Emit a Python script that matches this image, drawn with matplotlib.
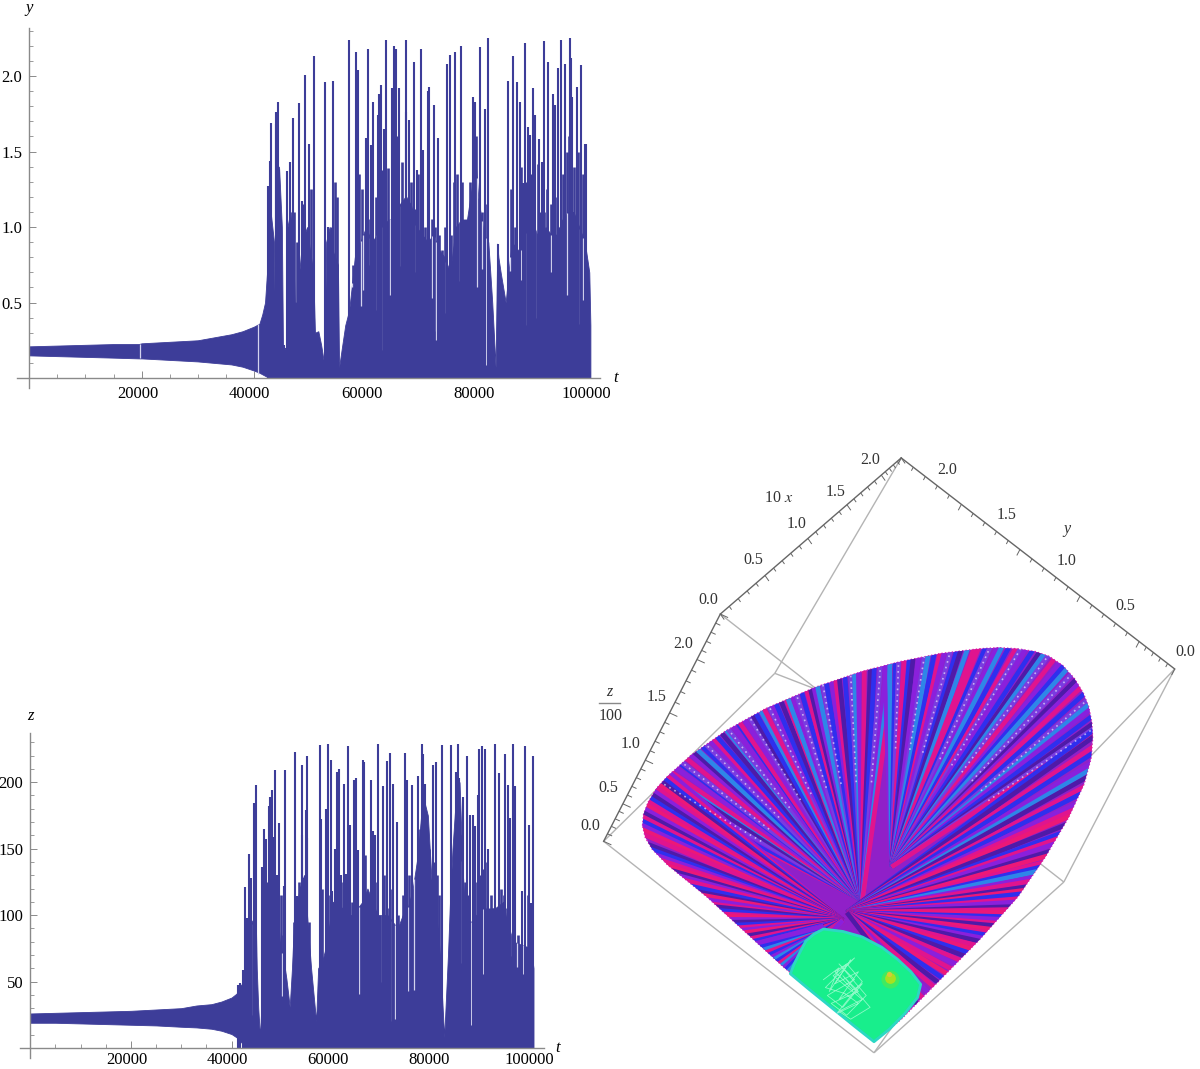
import numpy as np
import matplotlib
matplotlib.use('Agg')
import matplotlib.pyplot as plt
import matplotlib.transforms as mtransforms
from matplotlib.collections import LineCollection
from matplotlib.patches import Polygon

W, H = 1200, 1069
BLUE = '#3D3D99'
GREY = '#8A8A8A'
BOX = '#B4B4B4'

plt.rcParams['font.family'] = ['Liberation Serif', 'DejaVu Serif']

# --- y(t), body of the plot: t in thousands
y_body_t = [0, 5, 10, 15, 19.5, 20, 25, 30, 33, 36, 38, 40, 41, 41.5, 42, 42.5, 43, 43.6, 43.8, 44, 44.5, 45, 45.2,
            45.6, 45.8, 46, 46.5, 47, 47.3, 47.9, 48.1, 48.6, 49, 49.5, 50, 50.6, 50.9, 51.5, 52, 52.6, 52.9, 53.5,
            54, 54.5, 55, 55.2, 55.7, 56.3, 57, 57.5, 58, 59, 60, 61, 62, 63, 64, 65, 66, 67, 68, 69, 70, 71, 72,
            73, 74, 75, 76, 77, 78, 79, 79.6, 80, 81, 81.8, 82.5, 83.1, 83.4, 83.6, 84, 84.9, 85.4, 86, 87, 88,
            89, 90, 91, 92, 93, 94, 95, 96, 97, 98, 99, 99.8, 100]
y_body_hi = [.21, .215, .22, .225, .225, .23, .24, .25, .27, .29, .31, .34, .36, .42, .5, .78, 1.1, .9, .15, .9, 1.4,
             1.0, .2, .2, .15, 1.0, 1.1, .9, .5, .5, .7, .9, .95, 1.0, .85, .7, .3, .31, .22, .08, .9, 1.0, .85, .8,
             .75, .07, .2, .35, .45, .62, .8, .9, 1.0, .9, .95, 1.0, 1.05, 1.05, 1.15, 1.2, 1.15, 1.0, .95, .9, .95, .85,
             .8, .7, 1.0, 1.05, 1.05, 1.3, 1.4, 1.2, .95, .9, .5, .07, .89, .8, .7, .5, .7, .9, .85, .85, 1.0, 1.0,
             .9, 1.0, .95, .95, 1.05, 1.1, 1.1, 1.0, .9, .7, .35]
y_body_lo = [.15, .145, .14, .135, .13, .13, .12, .11, .1, .09, .075, .05, .035, .025, .015, .005, 0, 0, 0, 0, 0, 0, 0,
             0, 0, 0, 0, 0, 0, 0, 0, 0, 0, 0, 0, 0, 0, 0, 0, 0, 0, 0, 0, 0, 0, 0, 0, 0, 0, 0, 0, 0, 0, 0, 0, 0, 0,
             0, 0, 0, 0, 0, 0, 0, 0, 0, 0, 0, 0, 0, 0, 0, 0, 0, 0, 0, 0, 0, 0, 0, 0, 0, 0, 0, 0, 0, 0, 0, 0, 0, 0,
             0, 0, 0, 0, 0, 0, 0, 0]

y_spike_t = [42500, 42800, 43000, 43900, 44000, 44400, 45300, 45950, 46450, 47000, 48050, 48550, 49070, 49800, 50700,
             52700, 53150, 54150, 54750, 57050, 58200, 58650, 59950, 60400, 60850, 61200, 62150, 62300, 62650, 63150,
             63600, 64550, 65000, 65400, 65900, 67100, 67150, 67750, 68500, 69050, 69850, 70150, 71100, 71300, 72050,
             72850, 74500, 74900, 75950, 76900, 79100, 79450, 80250, 81150, 81700, 83450, 85350, 86200, 86950, 87400,
             87900, 88350, 88900, 89250, 89700, 90200, 90900, 91450, 91750, 92500, 93350, 93700, 94300, 94800, 95450,
             96350, 96600, 96750, 97550, 98300, 99100, 99250, 99450]
y_spike_v = [1.27, 1.44, 1.69, 1.76, 1.68, 1.83, .22, 1.37, 1.43, 1.72, 1.82, 1.17, 2.01, 1.55, 2.13,
             1.96, 1.0, 1.97, .78, 2.24, 2.16, 2.04, 1.59, 2.18, 1.54, 1.83, 1.74, 1.88, 1.94, 1.65,
             2.24, 1.92, 2.20, 2.18, 1.92, 1.76, 2.24, 1.71, 2.09, 1.38, 2.18, 1.51, 1.90, 1.93, 1.81,
             1.59, 2.08, 2.14, 2.16, 2.20, 1.86, 1.83, 2.19, 1.78, 2.25, .89, 1.97, 2.13, 1.96, 1.83,
             1.29, 2.22, 1.66, 1.61, 1.92, 1.74, 1.58, 1.43, 2.23, 2.09, 1.88, 1.81, 2.05, 2.24, 2.08,
             2.25, 2.12, 1.86, 1.93, 2.07, 1.55, 1.55, .78]
y_minor_t = [46500, 47200, 47700, 48800, 49300, 50200, 53800, 54400, 54900, 57700, 58300, 58800, 59300, 60100, 60700,
             61000, 61700, 62800, 63300, 64000, 64800, 65500, 66000, 66500, 67400, 68100, 68700, 69300, 70500, 71000,
             71700, 72300, 73000, 73500, 74000, 75200, 75600, 76200, 77200, 77700, 78500, 79600, 80700, 81500, 85800,
             86500, 87700, 88100, 88600, 89500, 90600, 91100, 91700, 92200, 92900, 93500, 94000, 94600, 95200, 95900,
             96100, 97000, 97800, 98700, 99000]
y_minor_v = [1.1, 1.1, .9, 1.15, .9, 1.25, 1.0, 1.3, 1.2, .75, 1.3, 1.35, 1.25, 1.3, 1.05,
             1.4, 1.2, 1.38, 1.12, 1.39, 1.5, 1.6, 1.1, 1.43, 1.2, 1.3, 1.12, 1.35, 1.0, 1.2,
             1.05, 1.0, .95, .85, 1.0, .95, 1.3, 1.35, 1.3, .9, 1.3, 1.6, 1.1, 1.15, 1.25,
             1.0, 1.4, 1.1, 1.3, 1.35, 1.42, 1.1, 1.1, 1.25, 1.15, 1.35, 1.2, 1.0, 1.35, 1.5,
             1.6, 1.4, 1.5, 1.35, 1.3]
# pale slits cut into the body
y_gap_t = [19700, 40800, 57450, 59050, 59500, 60700, 62000, 63050, 64300, 65900, 68900, 69750, 71750, 72150, 72500,
           74300, 76750, 79750, 80650, 81400, 85700, 87700, 88750, 90200, 93000, 95800, 98150, 98700]
y_gap_v = [.13, .03, .63, .48, .58, .75, .45, .185, .55, .74, .7, .6, .53, .31, .25,
           .43, .64, .6, .72, .085, .71, .65, .35, .4, .7, .55, .36, .52]

# --- z(t)
z_body_t = [0, 5, 10, 15, 20, 25, 30, 33, 36, 38, 40, 41, 41.5, 42.5, 43, 43.3, 44, 44.8, 45, 45.3, 45.65, 46, 46.1,
            47, 48, 49, 49.6, 50.4, 50.9, 51.55, 52, 52.4, 53.5, 54.4, 55.1, 55.8, 56.8, 57.2, 58, 59, 60, 61, 62,
            63, 64, 65, 66, 67, 68, 69, 70, 71, 72, 73, 74, 75, 76, 77, 78, 79, 79.9, 81, 81.4, 82.25, 83, 83.4,
            83.9, 84.6, 85.3, 85.9, 86.6, 88.6, 90, 92.3, 94, 94.7, 96, 99.5, 100]
z_body_hi = [26, 26.5, 27, 27.5, 28, 29, 30, 32, 33, 35, 38, 41, 46, 50, 60, 90, 95, 100, 60, 30, 8, 40, 115,
             115, 130, 110, 80, 65, 52, 31, 60, 95, 120, 130, 95, 60, 20, 60, 65, 80, 110, 110, 105,
             100, 100, 105, 110, 120, 110, 100, 100, 100, 95, 90, 100, 105, 120, 145, 190, 175, 115, 90, 70, 8, 70, 110,
             150, 190, 200, 135, 90, 100, 105, 105, 110, 95, 80, 75, 60]
z_body_lo = [19, 19, 18.5, 18, 17.5, 17, 16, 15.5, 14.5, 13, 10.5, 8, 6, 2, 0, 0, 0, 0, 0, 0, 0, 0, 0,
             0, 0, 0, 0, 0, 0, 0, 0, 0, 0, 0, 0, 0, 0, 0, 0, 0, 0, 0, 0,
             0, 0, 0, 0, 0, 0, 0, 0, 0, 0, 0, 0, 0, 0, 0, 0, 0, 0, 0, 0, 0, 0, 0,
             0, 0, 0, 0, 0, 0, 0, 0, 0, 0, 0, 0, 0]
z_spike_t = [41250, 41750, 42200, 42650, 43050, 43450, 43950, 44450, 44850, 46100, 46500, 46800, 47500, 47650, 48000,
             48200, 48650, 48950, 49400, 50400, 50650, 52700, 53000, 53900, 54000, 54400, 54700, 54900, 55050, 57550,
             57750, 58800, 59250, 59700, 60050, 60500, 60950, 61400, 61650, 62300, 62750, 63050, 63600, 64250, 64700,
             65050, 66150, 66300, 67700, 68000, 68200, 68500, 69000, 70000, 70950, 71500, 72100, 72850, 74450, 74900,
             75800, 77000, 77750, 78100, 78350, 79950, 80700, 81800, 83550, 84500, 84900, 85250, 85900, 86700, 87400,
             87900, 88400, 88950, 89100, 89750, 90400, 91000, 92300, 93050, 94300, 94900, 95250, 95900, 96300, 97750,
             98400, 99100, 99500, 99900]
z_spike_v = [47.6, 49, 59, 121.5, 98, 146, 128, 184, 198, 136, 165, 157, 182, 189, 194,
             159, 209, 130, 169, 122, 209, 222.5, 114, 160, 213, 128, 179, 158, 220, 228,
             172, 180, 228.5, 217, 118, 150, 208, 210, 130, 199, 131, 227, 168, 202, 203,
             149, 217, 215, 202, 127, 163, 160, 228.5, 197, 216, 222, 199, 170, 222, 202,
             198, 205, 228.5, 221, 199, 213, 215, 228, 228, 208, 228.5, 203, 189, 220, 175,
             175, 167, 190, 225, 227, 225, 150, 229, 207, 221, 198, 173, 229, 197, 118,
             227.5, 168, 109, 220]
z_minor_t = [46300, 47100, 48400, 49000, 49800, 50200, 52400, 52900, 53400, 54500, 55400, 57900, 58300, 59600, 60300,
             60900, 61800, 62300, 63400, 64000, 64500, 65500, 66600, 67400, 68500, 69300, 70300, 71200, 71800, 73000,
             74000, 75300, 76600, 77000, 77400, 78800, 79300, 80200, 80900, 81300, 85000, 85600, 86300, 87000, 88000,
             88800, 89400, 90000, 90700, 91500, 92000, 93500, 94100, 94700, 96100, 96900, 97300, 98900, 99400]
z_minor_v = [100, 125, 140, 120, 115, 85, 95, 110, 125, 130, 95, 120, 65, 115, 105,
             100, 125, 105, 120, 110, 105, 100, 145, 115, 125, 95, 130, 105, 120, 100,
             115, 130, 125, 145, 165, 160, 150, 140, 130, 115, 165, 160, 125, 115, 110,
             125, 130, 135, 140, 115, 105, 120, 115, 105, 100, 85, 70, 115, 58]
z_gap_t = [41200, 43800, 48400, 50050, 58800, 62700, 65250, 69900, 71900, 72500, 75050, 76300, 85850, 87600, 89900,
           95400, 96700, 98000]
z_gap_v = [8, 25, 21, 39, 54, 46, 41, 50, 20, 22, 43, 44, 64, 17.5, 56, 69, 61, 56]

t_ticks = [20000, 40000, 60000, 80000, 100000]
t_labels = ['20000', '40000', '60000', '80000', '100000']
y_ticks = [0.5, 1.0, 1.5, 2.0]
y_labels = ['0.5', '1.0', '1.5', '2.0']
z_ticks = [50, 100, 150, 200]
z_labels = ['50', '100', '150', '200']

# --- 3D panel, scene units
corner_T = (800, 20)
corner_A = (335, 415)
corner_B = (1503, 554)
corner_C = (35, 990)
corner_D = (730, 1525)
corner_E = (475, 565)
corner_G = (1218, 1093)
corner_F = (1216, 847)

petal_x = [135, 138, 150, 172, 200, 260, 350, 450, 580, 700, 800, 900, 1000, 1050, 1100, 1145, 1180, 1215, 1245, 1268,
           1282, 1290, 1292, 1288, 1270, 1230, 1170, 1100, 1000, 900, 800, 730, 600, 500, 400, 300, 200, 160, 142, 135]
petal_y = [950, 920, 890, 855, 825, 772, 710, 655, 600, 560, 535, 515, 503, 500, 503, 510, 522, 545, 578, 615,
           650, 690, 730, 780, 845, 930, 1030, 1130, 1240, 1340, 1440, 1497, 1390, 1310, 1220, 1130, 1050, 1010, 980, 950]

green_x = [575, 600, 650, 700, 750, 790, 825, 850, 842, 810, 770, 730, 680, 620, 560, 515, 525, 540, 555]
green_y = [1225, 1212, 1218, 1232, 1258, 1288, 1320, 1352, 1385, 1425, 1465, 1497, 1458, 1410, 1362, 1325, 1300, 1270, 1242]
scrib_x = [600, 640, 615, 670, 630, 690, 640, 700, 650, 610, 680, 640, 710, 660, 620, 690, 650, 720, 670, 640, 700, 625,
           680, 605, 655, 690, 635, 700, 660, 630, 675]
scrib_y = [1340, 1310, 1370, 1290, 1350, 1320, 1390, 1350, 1410, 1380, 1340, 1300, 1380, 1430, 1400, 1370, 1330, 1410,
           1440, 1420, 1390, 1330, 1285, 1360, 1375, 1400, 1425, 1345, 1300, 1320, 1365]

fan1_hub = (700, 1140)
fan1_ang = [-153, -152, -150.5, -150, -148.5, -147, -146.5, -145, -143.5, -143, -141.5, -140, -139, -138, -136.5, -135.5,
            -134, -133, -132, -130.5, -129, -128.5, -127, -125.5, -125, -123.5, -122, -121, -120, -118.5, -117.5, -116,
            -115, -114, -112.5, -111, -110.5, -109, -108, -106.5, -105, -104, -103, -102, -100.5, -99.5, -98, -97, -96,
            -94.5, -93, -92, -91, -89.5, -88, -87, -85.5, -84, -83, -82]
fan1_col = 'mbpwdcmpbwmpdcbwpmbdcwpbmpwdbcmwpbdmcpwbmdpcwbpmdbwcpmdbwpcm'
fan2_hub = (775, 1055)
fan2_ang = [-92, -90.5, -89, -88, -86.5, -85, -84, -82.5, -81, -80, -78.5, -77, -76, -74.5, -73, -72, -70.5, -69,
            -68, -66.5, -65.5, -64, -63, -61.5, -60, -59, -58, -56.5, -55, -54, -53, -51.5, -50, -49, -48, -46.5, -45,
            -44, -43, -41.5, -40, -39, -38, -36.5, -35, -34, -33]
fan2_col = 'pcbwmbdpwcbmpwbdcmmbwpcbmwpbdcwmpbcwdpmbwcpbdwm'
fan3_hub = (660, 1170)
fan3_ang = [-36, -35, -33.5, -32.5, -31, -30, -29, -27.5, -26.5, -25, -24, -23, -21.5, -20, -19, -18, -16.5, -15.5, -14,
            -13, -12, -10.5, -9.5, -8, -7, -6, -4.5, -3.5, -2, -1, 0, 1.5, 2.5, 4, 5, 6.5, 8, 9, 10.5, 12, 14, 16, 18, 20,
            22.5, 25, 28, 31, 34, 37, 40, 44, 48, 52]
fan3_col = 'bdmbpcdmbpmrdbmpdrmbcpmdrbmpdmrbpmdrmbpdmrbdmpmrbdmpmd'
fan4_hub = (650, 1190)
fan4_ang = [-140, -141, -142, -143, -144, -145, -146, -147, -148, -149, -150, -151, -152, -153, -154, -155, -156, -157,
            -159, -160, -161, -162, -163, -164, -165, -166, -167.5, -169, -170, -171.5, -173, -174, -175.5, -177, -178,
            -179.5, 179, 177.5, 176, 174.5, 173, 171, 169, 167, 165, 163, 160.5, 158, 155.5, 153, 150, 147, 144, 141,
            138, 135]
fan4_col = 'pmbdrmpdbmrpdmbprmdbpmrdpmbdrpmdbmrpdbmprdmbpdmrpbdmprmp'
fan5_hub = (600, 1205)
fan5_ang = [118, 121, 124, 127, 130, 133, 136, 139, 142, 145, 148, 151, 154, 157, 160, 163, 166]
fan5_col = 'ccbmcbpcmbcpbmcbp'

ray_colors = {'m': '#E0148E', 'b': '#2F2FEE', 'p': '#8A20DC', 'c': '#2E86E8', 'd': '#4F1AA8', 'r': '#EC1878',
              'w': '#7A3CE0'}

x_tick_major = [0.0, .247, .484, .70, .89, 1.0]
y_tick_major = [0.0, .22, .434, .654, .87, 1.0]
z_tick_major = [0.0, .165, .357, .565, .80, 1.0]


def time_panel(rect, xlim, ylim, body_t, lo, hi, gap_t, gap_v, spike_t, spike_v, minor_t, minor_v,
               yticks, ylabels, yminor, xpad):
    left, top, right, bottom = rect
    ax = fig.add_axes([left / W, 1 - bottom / H, (right - left) / W, (bottom - top) / H])
    ax.set_xlim(*xlim)
    ax.set_ylim(*ylim)
    ax.patch.set_alpha(0)
    body_x = np.array(body_t) * 1000
    ax.fill_between(body_x, lo, hi, color=BLUE, lw=0.6, zorder=2)
    ax.vlines(minor_t, 0, minor_v, color=BLUE, lw=1.9, zorder=2.05)
    ax.vlines(gap_t, gap_v, np.interp(gap_t, body_x, hi), color='#D4D4EE', lw=0.9, zorder=2.1)
    ax.vlines(spike_t, 0, spike_v, color=BLUE, lw=1.5, zorder=2.2)
    for side in ['top', 'right']:
        ax.spines[side].set_visible(False)
    for side in ['left', 'bottom']:
        ax.spines[side].set_position(('data', 0))
        ax.spines[side].set_color(GREY)
        ax.spines[side].set_linewidth(1.0)
        ax.spines[side].set_zorder(3)
    ax.set_xticks(t_ticks, t_labels)
    ax.set_xticks(np.arange(5000, 100001, 5000), minor=True)
    ax.set_yticks(yticks, ylabels)
    ax.set_yticks(yminor, minor=True)
    ax.tick_params(which='major', direction='in', length=5, width=0.7, color=GREY, labelsize=12, pad=5)
    ax.tick_params(axis='x', which='major', pad=xpad)
    ax.tick_params(which='minor', direction='in', length=3, width=0.6, color=GREY)
    shift = mtransforms.ScaledTranslation(-4 / 100, 0, fig.dpi_scale_trans)
    for lab in ax.get_xticklabels():
        lab.set_transform(lab.get_transform() + shift)
    return ax


def tick_marks(ax, p0, p1, fractions, direction):
    # minor ticks sit every 0.1 between the read major positions
    major = np.array(fractions)
    sub = np.interp(np.linspace(0, 5, 26), np.arange(6), major)
    segs = []
    for i, f in enumerate(sub):
        px = p0[0] + (p1[0] - p0[0]) * f
        py = p0[1] + (p1[1] - p0[1]) * f
        k = 1.0 if i % 5 == 0 else 0.6
        segs.append([(px, py), (px + direction[0] * k, py + direction[1] * k)])
    ax.add_collection(LineCollection(segs, colors='#666666', linewidths=0.7, zorder=4))
    ax.plot([p0[0], p1[0]], [p0[1], p1[1]], color='#666666', lw=1.0, zorder=4)


def draw_fan(ax, hub, angles, codes, clip):
    for ang, code in zip(angles, codes):
        a = np.radians(ang)
        x2, y2 = hub[0] + 1900 * np.cos(a), hub[1] + 1900 * np.sin(a)
        line, = ax.plot([hub[0], x2], [hub[1], y2], color=ray_colors[code], lw=3.4, solid_capstyle='butt', zorder=2)
        line.set_clip_path(clip)
        if code == 'w':
            # speckle only further out, the rim side of the ray
            x1, y1 = hub[0] + 300 * np.cos(a), hub[1] + 300 * np.sin(a)
            dots, = ax.plot([x1, x2], [y1, y2], color='white', lw=1.2, ls=(0, (1, 2.5)), alpha=.6, zorder=2.2)
            dots.set_clip_path(clip)


fig = plt.figure(figsize=(W / 100, H / 100), dpi=100)
fig.patch.set_facecolor('white')

# top panel: px window 17..600, 28..388
ax1 = time_panel((17, 28, 600, 388), (-2210, 101711), (-0.066, 2.318), y_body_t, y_body_lo, y_body_hi,
                 y_gap_t, y_gap_v, y_spike_t, y_spike_v, y_minor_t, y_minor_v, y_ticks, y_labels,
                 np.arange(0.1, 2.31, 0.1), 6)
ax1.text(-80, 2.45, 'y', style='italic', fontsize=12, ha='center', va='center', clip_on=False)
ax1.text(104500, 0.0, 't', style='italic', fontsize=12, ha='center', va='center', clip_on=False)

# bottom panel: px window 20..544, 733..1058
ax2 = time_panel((20, 733, 544, 1058), (-2047, 102087), (-7.5, 237), z_body_t, z_body_lo, z_body_hi,
                 z_gap_t, z_gap_v, z_spike_t, z_spike_v, z_minor_t, z_minor_v, z_ticks, z_labels,
                 np.arange(10, 231, 10), 3)
ax2.text(-50, 250, 'z', style='italic', fontsize=12, ha='center', va='center', clip_on=False)
ax2.text(104800, 0, 't', style='italic', fontsize=12, ha='center', va='center', clip_on=False)

# 3D panel, px window 590..1200, 450..1069
ax3 = fig.add_axes([590 / W, 0, 610 / W, 619 / H])
ax3.set_xlim(0, 1568)
ax3.set_ylim(1566, 0)
ax3.axis('off')

edges = [(corner_T, corner_E), (corner_A, corner_G), (corner_B, corner_G), (corner_B, corner_F),
         (corner_E, corner_C), (corner_E, corner_F), (corner_C, corner_D), (corner_F, corner_D),
         (corner_G, corner_D)]
ax3.add_collection(LineCollection(edges, colors=BOX, linewidths=1.0, zorder=1))

petal = Polygon(np.column_stack([petal_x, petal_y]), closed=True, facecolor='#9020C8', edgecolor='#E020B0',
                lw=1.0, ls=(0, (1, 1.5)), zorder=1.5)
ax3.add_patch(petal)
draw_fan(ax3, fan1_hub, fan1_ang, fan1_col, petal)
draw_fan(ax3, fan2_hub, fan2_ang, fan2_col, petal)
draw_fan(ax3, fan3_hub, fan3_ang, fan3_col, petal)
draw_fan(ax3, fan4_hub, fan4_ang, fan4_col, petal)
draw_fan(ax3, fan5_hub, fan5_ang, fan5_col, petal)

ax3.add_patch(Polygon(np.column_stack([green_x, green_y]), closed=True, facecolor='#18EE8C', edgecolor='#2CD8C4',
                      lw=2, joinstyle='round', zorder=3))
ax3.plot(scrib_x, scrib_y, color='#BFFFE0', lw=0.6, alpha=.7, zorder=3.1)
ax3.scatter([770], [1338], s=[170], color='#40EA60', lw=0, zorder=3.2)
ax3.scatter([772], [1335], s=[60], color='#A8E020', lw=0, zorder=3.3)
ax3.scatter([768], [1326], s=[14], color='#D8C838', lw=0, zorder=3.4)

tick_marks(ax3, corner_A, corner_T, x_tick_major, (10, 14))
tick_marks(ax3, corner_T, corner_B, y_tick_major, (-8, 15))
tick_marks(ax3, corner_C, corner_A, z_tick_major, (20, 9))

label_kw = dict(fontsize=11.5, color='#333333', ha='center', va='center', clip_on=False)
for s, lx, ly in zip(['0.0', '0.5', '1.0', '1.5', '2.0'], [305, 420, 530, 630, 720], [380, 278, 187, 105, 25]):
    ax3.text(lx, ly, s, **label_kw)
for s, lx, ly in zip(['2.0', '1.5', '1.0', '0.5', '0.0'], [918, 1070, 1225, 1375, 1530], [50, 165, 280, 395, 510]):
    ax3.text(lx, ly, s, **label_kw)
for s, lx, ly in zip(['0.0', '0.5', '1.0', '1.5', '2.0'], [0, 48, 105, 170, 240], [950, 855, 745, 625, 490]):
    ax3.text(lx, ly, s, **label_kw)
ax3.text(485, 122, '10 $\\mathit{x}$', math_fontfamily='stix', **label_kw)
ax3.text(1225, 200, 'y', style='italic', **label_kw)
ax3.text(50, 613, 'z', style='italic', **label_kw)
ax3.plot([24, 78], [640, 640], color='#888888', lw=1.0)
ax3.text(52, 672, '100', **label_kw)

fig.savefig('out.png', dpi=100)
